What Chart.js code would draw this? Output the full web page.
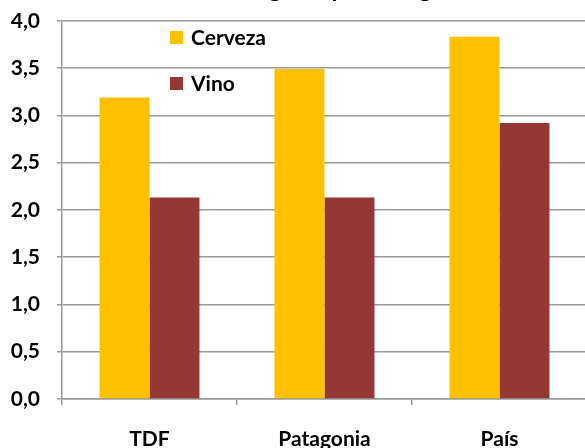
<!DOCTYPE html>
<html>
<head>
<meta charset="utf-8">
<script src="https://cdn.jsdelivr.net/npm/chart.js@4/dist/chart.umd.min.js"></script>
<style>
  html, body { margin: 0; padding: 0; background: #fff; overflow: hidden; width: 585px; height: 448px; }
  #chart { position: absolute; left: 0; top: -30px; }
</style>
</head>
<body>
<canvas id="chart" width="610" height="500"></canvas>
<script>
const categories = ["TDF", "Patagonia", "País"];
const cerveza = [3.19, 3.49, 3.83];
const vino = [2.13, 2.13, 2.92];
const seriesNames = ["Cerveza", "Vino"];
const seriesColors = ["#FFC000", "#953735"];

const FONT = "Lato, 'Open Sans', sans-serif";
const GRID = "#999999";

// legend sits inside the plot, top left
const boxLegend = {
  id: "boxLegend",
  afterDraw(chart) {
    const ctx = chart.ctx;
    const rows = [67, 113];
    ctx.save();
    ctx.font = "bold 21px " + FONT;
    ctx.textBaseline = "middle";
    chart.data.datasets.forEach((ds, i) => {
      ctx.fillStyle = ds.backgroundColor;
      ctx.fillRect(170, rows[i] - 6, 13, 13);
      ctx.fillStyle = "#000";
      ctx.fillText(ds.label, 191, rows[i] + 1);
    });
    ctx.restore();
  }
};

let ctx = document.getElementById("chart").getContext("2d");

let barChart = new Chart(ctx, {
  type: "bar",
  data: {
    labels: categories,
    datasets: [
      { label: seriesNames[0], data: cerveza, backgroundColor: seriesColors[0] },
      { label: seriesNames[1], data: vino, backgroundColor: seriesColors[1] },
    ],
  },
  options: {
    responsive: false,
    animation: false,
    devicePixelRatio: 1,
    categoryPercentage: 0.571,
    barPercentage: 1.0,
    layout: { padding: { top: 5, right: 23, left: 0, bottom: 0 } },
    plugins: {
      legend: { display: false },
      tooltip: { enabled: false },
      title: {
        display: true,
        text: "Cantidad de ingesta por categoría",
        color: "#000",
        font: { family: FONT, size: 24, weight: "bold" },
        padding: { top: 0, bottom: 17 },
      },
    },
    scales: {
      x: {
        afterFit: (s) => { s.height = 71; },
        grid: {
          display: true,
          drawOnChartArea: false,
          drawTicks: true,
          tickLength: 6,
          color: GRID,
          lineWidth: 1.5,
        },
        border: { display: true, color: GRID, width: 1.5 },
        ticks: {
          color: "#000",
          padding: 22,
          font: { family: FONT, size: 21, weight: "bold" },
        },
      },
      y: {
        min: 0,
        max: 4,
        afterFit: (s) => { s.width = 62; },
        grid: {
          color: GRID,
          lineWidth: 1.5,
          drawTicks: true,
          tickLength: 5,
        },
        border: { display: true, color: GRID, width: 1.5 },
        ticks: {
          stepSize: 0.5,
          color: "#000",
          padding: 17,
          font: { family: FONT, size: 21, weight: "bold" },
          callback: (v) => v.toFixed(1).replace(".", ","),
        },
      },
    },
  },
  plugins: [boxLegend],
});
</script>
</body>
</html>
